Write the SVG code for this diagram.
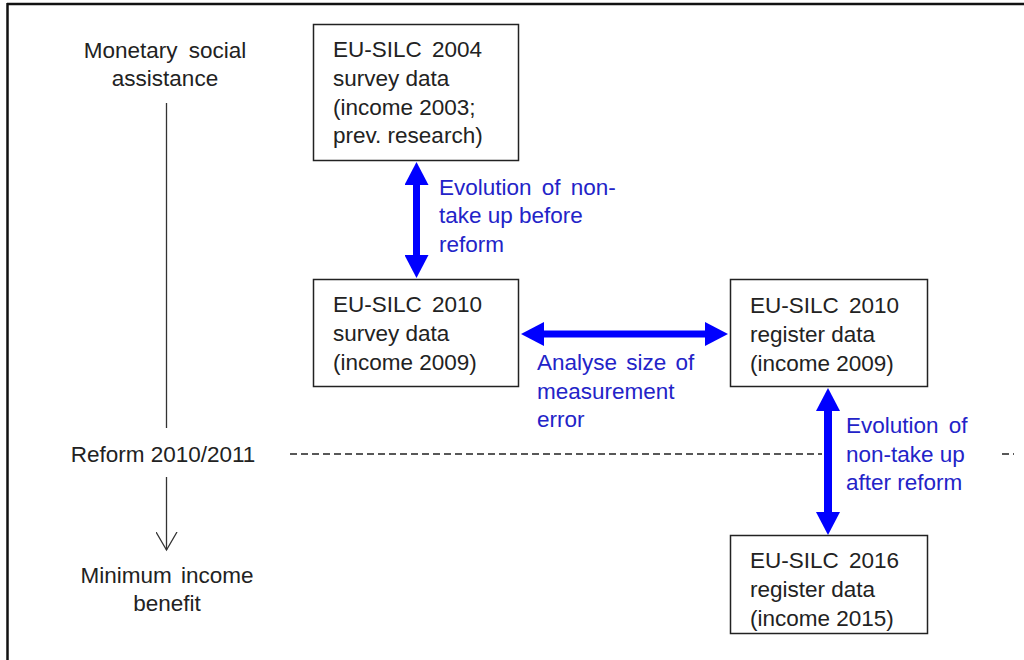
<svg xmlns="http://www.w3.org/2000/svg" width="1024" height="660" viewBox="0 0 1024 660">
<style>
.t{font-family:"Liberation Sans",Arial,sans-serif;font-size:22.5px;fill:#222}
.b{font-family:"Liberation Sans",Arial,sans-serif;font-size:22.5px;fill:#2323c8}
.box{fill:#fff;stroke:#222;stroke-width:1.5}
.arr{stroke:#0000ff;fill:none}
.tl{stroke:#333;stroke-width:1.3;fill:none}
.dash{stroke:#222;stroke-width:1.5;stroke-dasharray:7,4}
</style>
<defs>
<marker id="bh" markerUnits="userSpaceOnUse" viewBox="0 0 23 24" refX="1" refY="12" markerWidth="23" markerHeight="24" orient="auto-start-reverse">
<path d="M0,0 L23,12 L0,24 z" fill="#0000ff"/>
</marker>
<marker id="vh" markerUnits="userSpaceOnUse" viewBox="0 0 20 22" refX="18" refY="11" markerWidth="20" markerHeight="22" orient="auto">
<path d="M0,0.5 L18,11 L0,21.5" fill="none" stroke="#333" stroke-width="1.3"/>
</marker>
</defs>
<rect width="1024" height="660" fill="#fff"/>
<g id="frame">
<line x1="7" y1="4" x2="1024" y2="4" stroke="#111" stroke-width="2.5"/>
<line x1="7.5" y1="3" x2="7.5" y2="660" stroke="#111" stroke-width="2.5"/>
</g>
<g id="timeline">
<text class="t" text-anchor="middle" x="165" y="58" word-spacing="5">Monetary social</text>
<text class="t" text-anchor="middle" x="165" y="86">assistance</text>
<line class="tl" x1="166.5" y1="103" x2="166.5" y2="428"/>
<text class="t" text-anchor="middle" x="163" y="462">Reform 2010/2011</text>
<line class="tl" x1="166.5" y1="477" x2="166.5" y2="550" marker-end="url(#vh)"/>
<text class="t" text-anchor="middle" x="167" y="583" word-spacing="3">Minimum income</text>
<text class="t" text-anchor="middle" x="167" y="611">benefit</text>
<line class="dash" x1="290" y1="454" x2="822" y2="454"/>
<line class="dash" x1="1002" y1="454" x2="1014" y2="454"/>
</g>
<g id="connectors">
<line class="arr" stroke-width="7" x1="416.5" y1="184" x2="416.5" y2="256" marker-start="url(#bh)" marker-end="url(#bh)"/>
<line class="arr" stroke-width="7" x1="543" y1="334" x2="706" y2="334" marker-start="url(#bh)" marker-end="url(#bh)"/>
<line class="arr" stroke-width="8" x1="828" y1="410" x2="828" y2="513" marker-start="url(#bh)" marker-end="url(#bh)"/>
</g>
<g id="n2004">
<rect class="box" x="313.5" y="24.5" width="205" height="136"/>
<text class="t" x="333" y="57" word-spacing="4">EU-SILC 2004</text>
<text class="t" x="333" y="86">survey data</text>
<text class="t" x="333" y="115">(income 2003;</text>
<text class="t" x="333" y="143">prev. research)</text>
</g>
<g id="n2010s">
<rect class="box" x="313.5" y="279.5" width="205" height="107"/>
<text class="t" x="333" y="312" word-spacing="4">EU-SILC 2010</text>
<text class="t" x="333" y="341">survey data</text>
<text class="t" x="333" y="370">(income 2009)</text>
</g>
<g id="n2010r">
<rect class="box" x="730.5" y="279.5" width="197" height="107"/>
<text class="t" x="750" y="313" word-spacing="4">EU-SILC 2010</text>
<text class="t" x="750" y="342">register data</text>
<text class="t" x="750" y="371">(income 2009)</text>
</g>
<g id="n2016r">
<rect class="box" x="730.5" y="535.5" width="197" height="98"/>
<text class="t" x="750" y="568" word-spacing="4">EU-SILC 2016</text>
<text class="t" x="750" y="597">register data</text>
<text class="t" x="750" y="626">(income 2015)</text>
</g>
<g id="lbl-before">
<text class="b" x="439" y="195" word-spacing="4">Evolution of non-</text>
<text class="b" x="439" y="223">take up before</text>
<text class="b" x="439" y="252">reform</text>
</g>
<g id="lbl-error">
<text class="b" x="537" y="370" word-spacing="3">Analyse size of</text>
<text class="b" x="537" y="399">measurement</text>
<text class="b" x="537" y="427">error</text>
</g>
<g id="lbl-after">
<text class="b" x="846" y="433" word-spacing="4">Evolution of</text>
<text class="b" x="846" y="462">non-take up</text>
<text class="b" x="846" y="490">after reform</text>
</g>
</svg>
